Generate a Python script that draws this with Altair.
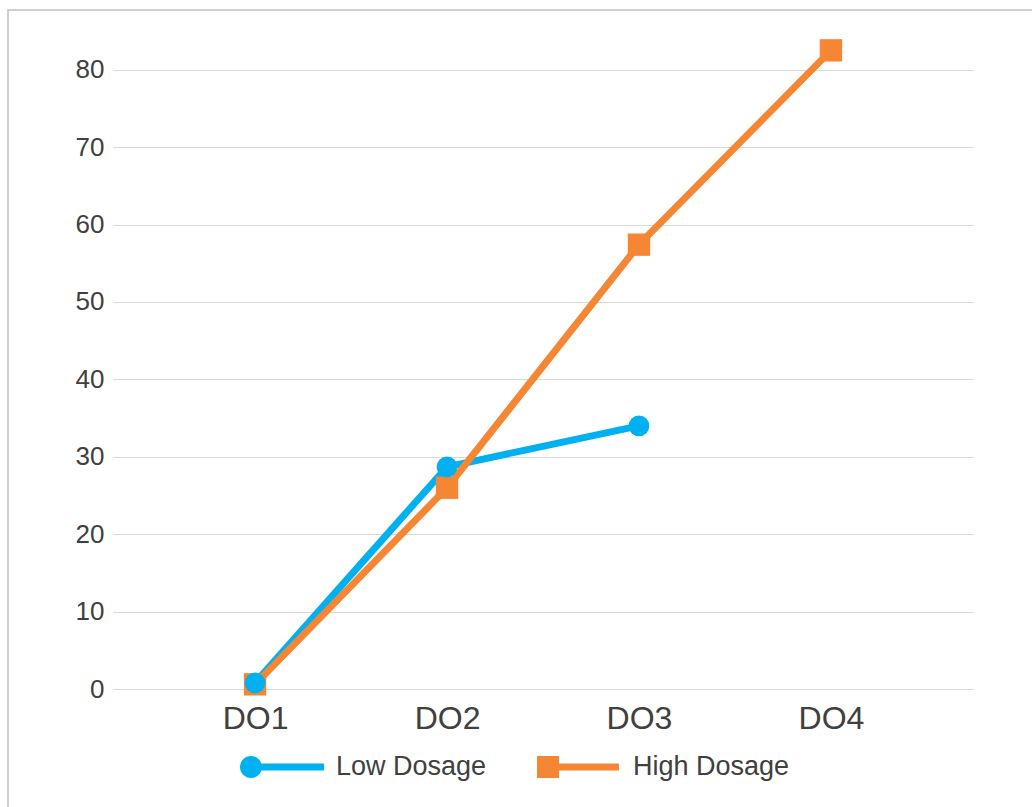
import altair as alt
import pandas as pd

doses = ["DO1", "DO2", "DO3", "DO4"]
low_values = [0.8, 28.7, 34.0, None]
high_values = [0.6, 26.0, 57.4, 82.5]
series = ["Low Dosage", "High Dosage"]
colors = ["#00B0F0", "#F58634"]
y_ticks = [0, 10, 20, 30, 40, 50, 60, 70, 80]

rows = []
for d, v in zip(doses, low_values):
    if v is not None:
        rows.append({"dose": d, "series": "Low Dosage", "value": v})
for d, v in zip(doses, high_values):
    if v is not None:
        rows.append({"dose": d, "series": "High Dosage", "value": v})
df = pd.DataFrame(rows)

FONT = "Liberation Sans"
TEXT = "#404040"

LOW_PATH = ("M-1,0 A0.262,0.262 0 1,1 -0.476,0 A0.262,0.262 0 1,1 -1,0 Z "
            "M-0.74,-0.085 L1,-0.085 L1,0.085 L-0.74,0.085 Z")
HIGH_PATH = ("M-1,-0.262 L-0.476,-0.262 L-0.476,0.262 L-1,0.262 Z "
             "M-0.5,-0.085 L0.95,-0.085 L0.95,0.085 L-0.5,0.085 Z")

x_enc = alt.X("dose:N", sort=doses,
              scale=alt.Scale(type="point", domain=doses, padding=0.74),
              axis=alt.Axis(title=None, labelAngle=0, labelFontSize=32, labelPadding=14,
                            domain=False, ticks=False, grid=False, labelColor=TEXT,
                            labelFont=FONT))
y_enc = alt.Y("value:Q", scale=alt.Scale(domain=[0, 85], nice=False, zero=True),
              axis=alt.Axis(title=None, values=y_ticks, labelFontSize=26, labelPadding=9,
                            domain=False, ticks=False, grid=True, gridColor="#d9d9d9",
                            gridWidth=1, labelColor=TEXT, labelFont=FONT))
color_scale = alt.Scale(domain=series, range=colors)
shape_scale = alt.Scale(domain=series, range=[LOW_PATH, HIGH_PATH])

legend = alt.Legend(
    orient="none", legendX=127, legendY=694, direction="horizontal", title=None,
    labelFontSize=27, labelColor=TEXT, labelFont=FONT, symbolSize=7056,
    symbolStrokeWidth=0, symbolOpacity=1, labelOffset=12, columnPadding=50,
)

base = alt.Chart(df)

legend_layer = base.transform_filter("false").mark_point(filled=True, size=7056, strokeWidth=0, opacity=1).encode(
    x=x_enc, y=y_enc,
    color=alt.Color("series:N", scale=color_scale, legend=legend),
    shape=alt.Shape("series:N", scale=shape_scale, legend=legend))

line_low = base.transform_filter(alt.datum.series == "Low Dosage").mark_line(strokeWidth=7).encode(
    x=x_enc, y=y_enc, color=alt.Color("series:N", scale=color_scale, legend=None))
line_high = base.transform_filter(alt.datum.series == "High Dosage").mark_line(strokeWidth=7).encode(
    x=x_enc, y=y_enc, color=alt.Color("series:N", scale=color_scale, legend=None))
pts_high = base.transform_filter(alt.datum.series == "High Dosage").mark_square(size=500, opacity=1).encode(
    x=x_enc, y=y_enc, color=alt.Color("series:N", scale=color_scale, legend=None))
pts_low = base.transform_filter(alt.datum.series == "Low Dosage").mark_circle(size=430, opacity=1).encode(
    x=x_enc, y=y_enc, color=alt.Color("series:N", scale=color_scale, legend=None))

border = alt.Chart(pd.DataFrame({"b": [1]})).mark_rect(fill=None, stroke="#c0c0c0", strokeWidth=1.5).encode(
    x=alt.value(-105), x2=alt.value(940), y=alt.value(-21), y2=alt.value(800))

chart = alt.layer(border, legend_layer, line_low, line_high, pts_high, pts_low).properties(
    width=860, height=658,
    autosize=alt.AutoSizeParams(type="none"),
    padding={"left": 113, "top": 31, "right": 59, "bottom": 118},
).configure(background="white").configure_view(stroke=None, strokeWidth=0)

chart.save("out.html", embed_options={"renderer": "svg", "actions": False})
